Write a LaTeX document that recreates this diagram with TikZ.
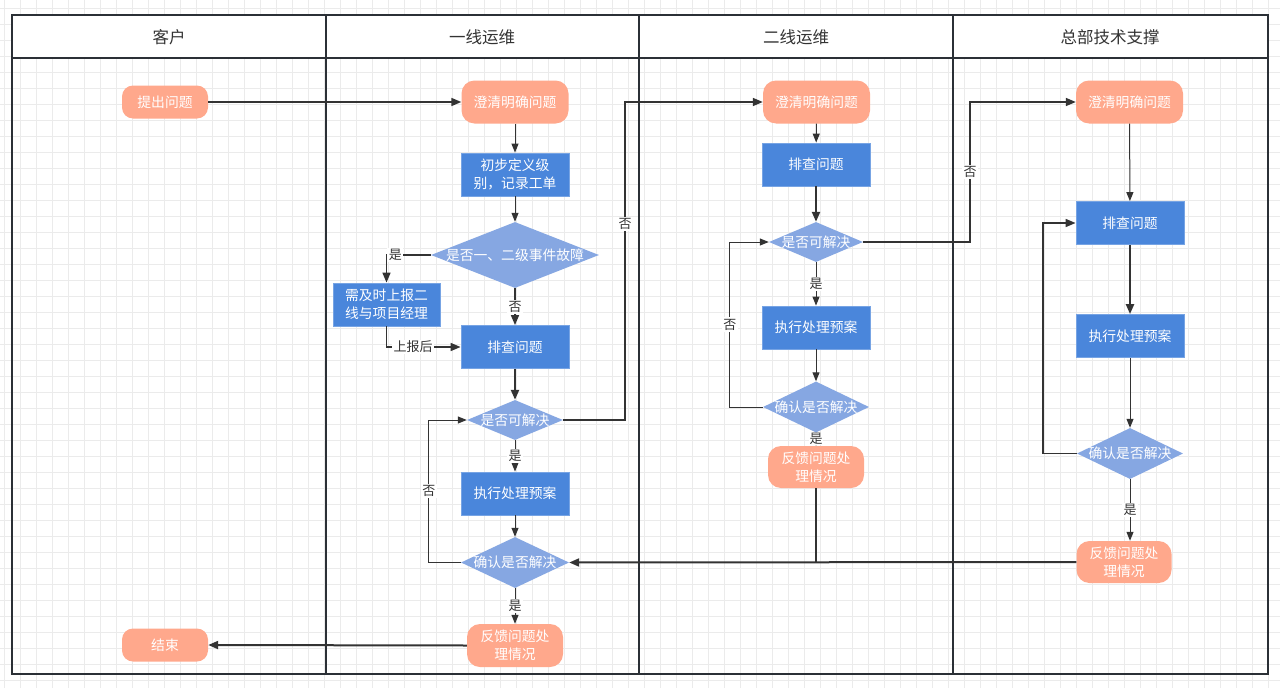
\documentclass[tikz,border=0pt]{standalone}
\usepackage{fontspec}
\setmainfont{Noto Sans CJK SC}
\usetikzlibrary{shapes.geometric,arrows.meta,calc}
\definecolor{salm}{HTML}{FFA88C}
\definecolor{blu}{HTML}{4A86DB}
\definecolor{dia}{HTML}{86A7E2}
\definecolor{ln}{HTML}{333333}
\definecolor{tb}{HTML}{2B3036}
\definecolor{grd}{HTML}{EBEBEB}
\newcommand\myNF{\fontsize{13.8}{18}\selectfont}
\newcommand\myLF{\fontsize{13}{15}\selectfont}
\newcommand\myHF{\fontsize{16.5}{18}\selectfont}
\tikzset{
  term/.style={fill=salm, rounded corners=13, text=white, align=center, minimum width=107, minimum height=43, inner sep=0, font=\myNF},
  proc/.style={fill=blu, draw=blu!75!white, line width=0.8, text=white, align=center, minimum width=108, minimum height=43, inner sep=0, font=\myNF},
  decis/.style={diamond, fill=dia, inner sep=0},
  dtext/.style={text=white, font=\myNF, inner sep=0},
  lbl/.style={fill=white, text=ln, font=\myLF, inner sep=1.5},
  hdr/.style={text=ln, font=\myHF},
  conn/.style={draw=ln, line width=1, -{Triangle[length=9,width=7]}},
  tconn/.style={draw=ln, line width=2, -{Triangle[length=10,width=8]}},
  tline/.style={draw=ln, line width=2},
}
\begin{document}
\begin{tikzpicture}[x=1pt,y=-1pt]
\useasboundingbox (0,0) rectangle (1280,688);
\fill[white] (0,0) rectangle (1280,688);
\foreach \x in {4,20,...,1280} \draw[grd, line width=0.8] (\x,0) -- (\x,688);
\foreach \y in {8,24,...,688} \draw[grd, line width=0.8] (0,\y) -- (1280,\y);
% table
\fill[white] (12,15) rectangle (1268,58);
\draw[tb, line width=2] (12,15) rectangle (1268,674);
\draw[tb, line width=2] (12,58) -- (1268,58);
\foreach \x in {326,639,953} \draw[tb, line width=2] (\x,15) -- (\x,674);
\node[hdr] (h1) at (169,37) {客户};
\node[hdr] (h2) at (482,37) {一线运维};
\node[hdr] (h3) at (796,37) {二线运维};
\node[hdr] (h4) at (1110,37) {总部技术支撑};
% lane 1
\node[term, minimum width=86, minimum height=33, rounded corners=11] (s) at (165,102) {提出问题};
\node[term, minimum width=86, minimum height=33, rounded corners=11] (e) at (165,645) {结束};
% lane 2
\node[term] (c2) at (515,102) {澄清明确问题};
\node[proc] (a2) at (515,174.5) {初步定义级\\别，记录工单};
\node[decis, minimum width=168, minimum height=66] (d1) at (515,255) {};
\node[dtext] (d1t) at (d1) {是否一、二级事件故障};
\node[proc, minimum width=107] (r1) at (386.5,304.5) {需及时上报二\\线与项目经理};
\node[proc] (p2) at (515,347) {排查问题};
\node[decis, minimum width=96, minimum height=40] (k2) at (515,420) {};
\node[dtext] (k2t) at (k2) {是否可解决};
\node[proc] (x2) at (515,493.5) {执行处理预案};
\node[decis, minimum width=108, minimum height=51] (f2) at (515,562.5) {};
\node[dtext] (f2t) at (f2) {确认是否解决};
\node[term, minimum width=96] (b2) at (515,645.5) {反馈问题处\\理情况};
% lane 3
\node[term] (c3) at (816.5,102) {澄清明确问题};
\node[proc] (p3) at (816,164.5) {排查问题};
\node[decis, minimum width=94, minimum height=40] (k3) at (816,242) {};
\node[dtext] (k3t) at (k3) {是否可解决};
\node[proc] (x3) at (816,327.5) {执行处理预案};
\node[decis, minimum width=106, minimum height=51] (f3) at (816,407) {};
\node[dtext] (f3t) at (f3) {确认是否解决};
\node[term, minimum width=96, minimum height=42] (b3) at (816,467) {反馈问题处\\理情况};
% lane 4
\node[term] (c4) at (1129.5,102) {澄清明确问题};
\node[proc] (p4) at (1130,223) {排查问题};
\node[proc] (x4) at (1130,336) {执行处理预案};
\node[decis, minimum width=106, minimum height=51] (f4) at (1130,453.5) {};
\node[dtext] (f4t) at (f4) {确认是否解决};
\node[term, minimum width=95, minimum height=42] (b4) at (1124,562) {反馈问题处\\理情况};
% connectors lane 2
\draw[tconn, line width=1.6] (s) -- (c2);
\draw[conn] (c2) -- (a2);
\draw[conn] (a2) -- (d1);
\draw[tconn, line width=1.6] (d1.west) -| node[lbl, pos=0.4] {是} (r1.north);
\draw[tconn, line width=1.6] (d1.south) -- node[lbl] {否} (p2.north);
\draw[tconn, line width=1.6] (r1.south) |- node[lbl, pos=0.68] {上报后} (p2.west);
\draw[tconn, line width=2.2] (p2) -- (k2.north);
\draw[tconn, line width=1.6] (k2.east) -- ++(62,0) |- node[lbl, pos=0.308] {否} (c3.west);
\draw[conn] (k2.south) -- node[lbl] {是} (x2.north);
\draw[conn] (x2) -- (f2.north);
\draw[conn] (f2.west) -- ++(-32,0) |- node[lbl, pos=0.25] {否} (k2.west);
\draw[conn] (f2.south) -- node[lbl] {是} (b2.north);
\draw[tconn] (b2.west) -- (e.east);
% lane 3
\draw[conn] (c3) -- (p3);
\draw[tconn, line width=2.2] (p3) -- (k3.north);
\draw[conn] (k3.south) -- node[lbl] {是} (x3.north);
\draw[conn] (x3) -- (f3.north);
\draw[conn] (f3.west) -- ++(-33,0) |- node[lbl, pos=0.25] {否} (k3.west);
\draw[conn] (f3.south) -- node[lbl, inner sep=0.5] {是} (b3.north);
\draw[tconn, line width=1.6] (k3.east) -- ++(107,0) |- node[lbl, pos=0.25] {否} (c4.west);
\draw[tline] (b3.south) -- (b3.south |- f2.east);
\draw[tconn] (b4.west) -- (f2.east);
% lane 4
\draw[conn] (c4) -- (p4);
\draw[tconn, line width=2.2] (p4) -- (x4);
\draw[conn] (x4) -- (f4.north);
\draw[tconn, line width=1.6] (f4.west) -- ++(-34,0) |- (p4.west);
\draw[conn] (f4.south) -- node[lbl] {是} (f4.south |- b4.north);
\end{tikzpicture}
\end{document}
